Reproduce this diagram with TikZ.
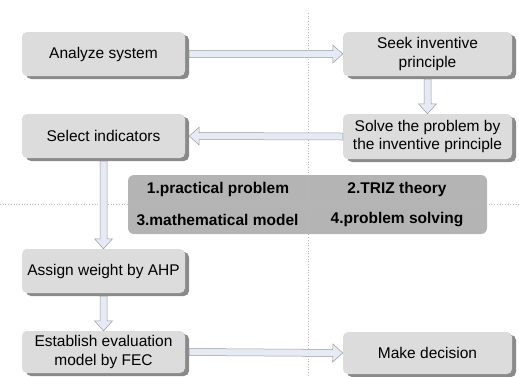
\documentclass[tikz,border=0pt]{standalone}
\usepackage{fontspec}
\setmainfont{Liberation Sans}
\usetikzlibrary{calc,shadows}
\definecolor{boxgray}{HTML}{DCDCDC}
\definecolor{shadegray}{HTML}{8A8A8A}
\definecolor{tablegray}{HTML}{B4B4B4}
\definecolor{arrowfill}{HTML}{E6EAF4}
\definecolor{arrowline}{HTML}{9A9A9A}
\definecolor{guidegray}{HTML}{B8B8B8}
\newcommand\blockarrow[2]{\draw[arrowbody] let \p1=(#1), \p2=(#2), \n1={atan2(\y2-\y1,\x2-\x1)}, \n2={veclen(\x2-\x1,\y2-\y1)} in
		[shift={(\p1)}, rotate=\n1] (0pt,-3.5pt) -- ({\n2-10pt},-3.5pt) -- ({\n2-10pt},-9pt) -- ({\n2},0pt) -- ({\n2-10pt},9pt) -- ({\n2-10pt},3.5pt) -- (0pt,3.5pt) -- cycle;}

\begin{document}
\begin{tikzpicture}[x=1pt, y=-1pt,
		stepbox/.style={rounded corners=5pt, fill=boxgray, minimum height=44pt, inner sep=0pt, align=center,
			general shadow={fill=shadegray, shadow xshift=4pt, shadow yshift=-3pt}},
		leftbox/.style={stepbox, minimum width=163pt},
		rightbox/.style={stepbox, minimum width=169pt},
		arrowbody/.style={fill=arrowfill, draw=arrowline, line width=0.5pt},
		guide/.style={draw=guidegray, dotted, line width=0.7pt},
		tablelabel/.style={font=\bfseries}]
		%%%%% START %%%%%
		\useasboundingbox (0, 0) rectangle (519, 376);
		\fontsize{15.5}{18.5}\selectfont

		\fill[tablegray, rounded corners=6pt] (128, 175) rectangle (487, 234);
		\node[tablelabel] (pp) at (218, 189) {1.practical problem};
		\node[tablelabel] (tt) at (397, 189) {2.TRIZ theory};
		\node[tablelabel] (mm) at (217.5, 220) {3.mathematical model};
		\node[tablelabel] (ps) at (397, 220) {4.problem solving};

		\draw[guide] (308, 13) -- (308, 376);
		\draw[guide] (0, 204) -- (519, 204);

		\node[leftbox] (anl) at (103.5, 54) {Analyze system};
		\node[rightbox] (seek) at (427.5, 54) {Seek inventive\\principle};
		\node[rightbox, minimum height=45pt] (solve) at (427.5, 136.5) {Solve the problem by\\the inventive principle};
		\node[leftbox] (sel) at (103.5, 136) {Select indicators};
		\node[leftbox] (ahp) at (103.5, 271) {Assign weight by AHP};
		\node[leftbox, minimum height=42pt] (fec) at (103.5, 352) {Establish evaluation\\model by FEC};
		\node[rightbox, minimum height=42pt] (dec) at (427.5, 353) {Make decision};

		\blockarrow{[xshift=4pt]anl.east}{seek.west}
		\blockarrow{[yshift=-3pt]seek.south}{solve.north}
		\blockarrow{solve.west}{[xshift=4pt]sel.east}
		\blockarrow{[yshift=-3pt]sel.south}{ahp.north}
		\blockarrow{[yshift=-3pt]ahp.south}{fec.north}
		\blockarrow{[xshift=4pt]fec.east}{dec.west}
		%%%%% END %%%%%
\end{tikzpicture}
\end{document}
